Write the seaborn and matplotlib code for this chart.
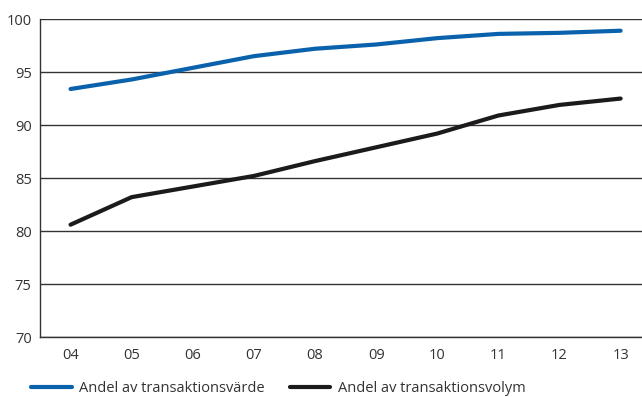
import matplotlib
matplotlib.use("Agg")
import matplotlib.pyplot as plt
import seaborn as sns
import pandas as pd

years = ["04", "05", "06", "07", "08", "09", "10", "11", "12", "13"]
andel_varde = [93.4, 94.3, 95.4, 96.5, 97.2, 97.6, 98.2, 98.6, 98.7, 98.9]
andel_volym = [80.6, 83.2, 84.2, 85.2, 86.6, 87.9, 89.2, 90.9, 91.9, 92.5]
series_names = ["Andel av transaktionsvärde", "Andel av transaktionsvolym"]
colors = ["#0a62ad", "#1d1a1a"]

df = pd.DataFrame({
    "år": years * 2,
    "andel": andel_varde + andel_volym,
    "serie": [series_names[0]] * len(years) + [series_names[1]] * len(years),
})

sns.set_style("white")
plt.rcParams["font.family"] = ["Open Sans", "DejaVu Sans"]

fig = plt.figure(figsize=(6.42, 3.97), dpi=100)
ax = fig.add_axes([0.0623, 0.151, 0.9377, 0.801])

sns.lineplot(data=df, x="år", y="andel", hue="serie", palette=colors,
             linewidth=3, ax=ax, sort=False)

ax.set_ylim(70, 100)
ax.set_yticks(range(70, 101, 5))
ax.set_xlim(-0.5, 9.35)
ax.yaxis.grid(True, color="#333333", linewidth=1)
ax.set_axisbelow(True)
ax.set_xlabel("")
ax.set_ylabel("")
for side in ["top", "right"]:
    ax.spines[side].set_visible(False)
for side in ["left", "bottom"]:
    ax.spines[side].set_color("#333333")
    ax.spines[side].set_linewidth(1)
ax.tick_params(axis="both", length=0, labelsize=10.5, colors="#333333", pad=8)
ax.tick_params(axis="y", pad=6)

handles, labels = ax.get_legend_handles_labels()
ax.get_legend().remove()
fig.legend(handles, labels, loc="lower left", bbox_to_anchor=(0.028, -0.03),
           ncol=2, frameon=False, fontsize=10.5, handlelength=2.8,
           handletextpad=0.5, columnspacing=1.7, labelcolor="#333333")

fig.savefig("out.png", dpi=100)
